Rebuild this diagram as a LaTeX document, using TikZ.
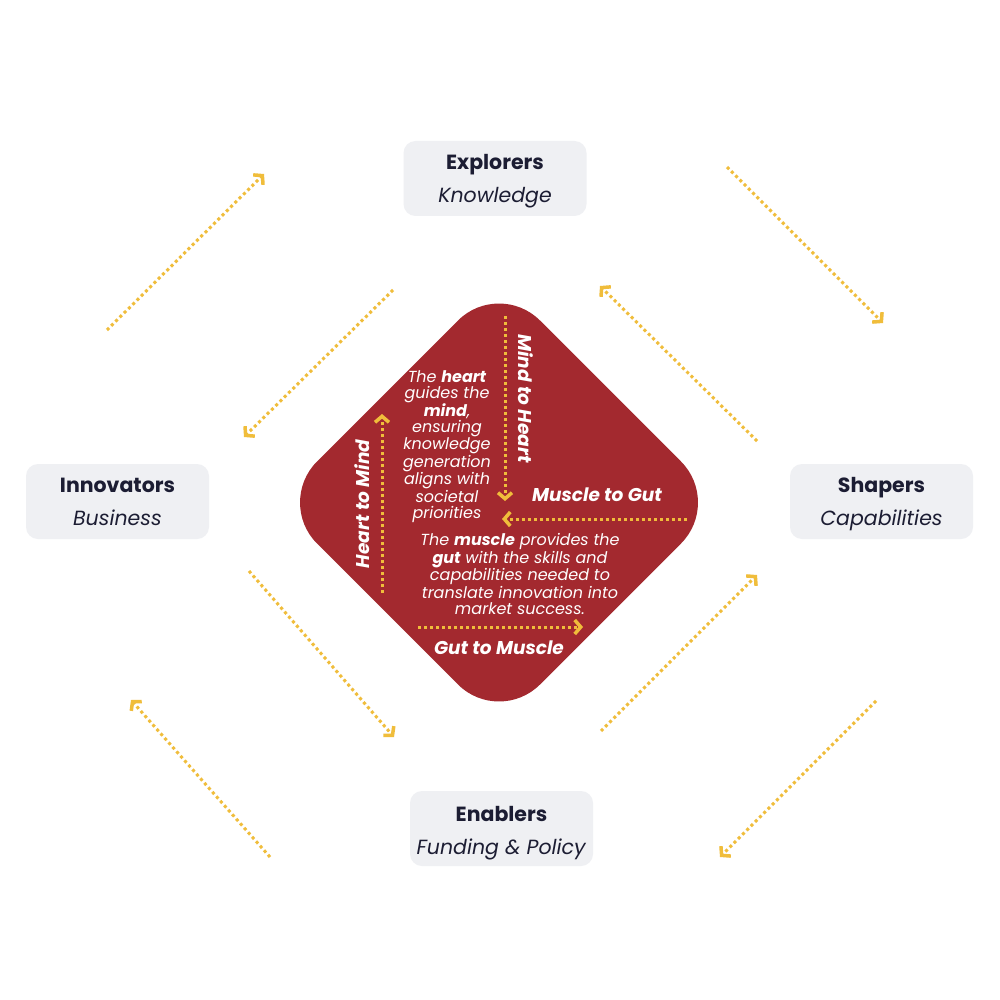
\documentclass[tikz,border=0pt]{standalone}
\usepackage{fontspec}
\setmainfont{Poppins}
\usetikzlibrary{arrows.meta}
\definecolor{dred}{HTML}{A3292F}
\definecolor{gold}{HTML}{F0BD3B}
\definecolor{boxgray}{HTML}{EFF0F3}
\definecolor{navy}{HTML}{1C1D33}
\tikzset{
  rolebox/.style={fill=boxgray, rounded corners=12pt, minimum width=183pt, minimum height=75pt, inner sep=0pt},
  roletext/.style={text=navy, align=center, font=\fontsize{20.5}{33}\selectfont, inner sep=0pt},
  flow/.style={gold, line width=3pt, dash pattern=on 3pt off 3pt,
    -{Straight Barb[length=6pt,width=14pt,line width=3.5pt]}},
  lbl/.style={text=white, font=\fontsize{18.5}{20}\selectfont\bfseries\itshape, inner sep=0pt},
  para/.style={text=white, align=center, font=\fontsize{16}{16}\selectfont\itshape, inner sep=0pt}
}
\begin{document}
\begin{tikzpicture}[x=1pt,y=-1pt]
\useasboundingbox (0,0) rectangle (1000,1000);
\fill[white] (0,0) rectangle (1000,1000);

% central diamond
\fill[dred, rounded corners=58pt] (499,279.5) -- (722,502.5) -- (499,725.5) -- (276,502.5) -- cycle;

% role boxes
\node[rolebox] (explorers) at (495,178.5) {};
\node[rolebox] (innovators) at (117.5,501.5) {};
\node[rolebox] (shapers) at (881.5,501.5) {};
\node[rolebox] (enablers) at (501.5,828.5) {};
\node[roletext] (explorersT) at ([yshift=-3pt]explorers.center) {\textbf{Explorers}\\\textit{Knowledge}};
\node[roletext] (innovatorsT) at (innovators.center) {\textbf{Innovators}\\\textit{Business}};
\node[roletext] (shapersT) at ([yshift=-3pt]shapers.center) {\textbf{Shapers}\\\textit{Capabilities}};
\node[roletext] (enablersT) at ([yshift=-5pt]enablers.center) {\textbf{Enablers}\\\textit{Funding \& Policy}};

% outer arrow end points
\coordinate (a1s) at (107,330); \coordinate (a1e) at (264,174);
\coordinate (a2s) at (393,290); \coordinate (a2e) at (244,437);
\coordinate (a3s) at (727,167); \coordinate (a3e) at (883,323);
\coordinate (a4s) at (757,441); \coordinate (a4e) at (600,286);
\coordinate (a5s) at (249,571); \coordinate (a5e) at (394,737);
\coordinate (a6s) at (270,857); \coordinate (a6e) at (131,700);
\coordinate (a7s) at (601,731); \coordinate (a7e) at (757,575);
\coordinate (a8s) at (876,701); \coordinate (a8e) at (720,857);
\foreach \i in {1,...,8} \draw[flow] (a\i s) -- (a\i e);

% inner arrows
\coordinate (m1) at (505,316); \coordinate (m2) at (505,501);
\coordinate (g1) at (687,519); \coordinate (g2) at (502,519);
\coordinate (h1) at (382,593); \coordinate (h2) at (382,414);
\coordinate (u1) at (418,627); \coordinate (u2) at (583,627);
\draw[flow] (m1) -- (m2);
\draw[flow] (g1) -- (g2);
\draw[flow] (h1) -- (h2);
\draw[flow] (u1) -- (u2);

% labels
\node[lbl, rotate=-90] (mth) at (526,398.5) {Mind to Heart};
\node[lbl, rotate=90] (htm) at (362,504) {Heart to Mind};
\node[lbl] (mtg) at (597,495) {Muscle to Gut};
\node[lbl] (gtm) at (499,648) {Gut to Muscle};

\node[para] (p1) at (447,446.5) {The \textbf{heart}\\guides the\\\textbf{mind},\\ensuring\\knowledge\\generation\\aligns with\\societal\\priorities};
\node[para] (p2) at (520,574) {The \textbf{muscle} provides the\\\textbf{gut} with the skills and\\capabilities needed to\\translate innovation into\\market success.};
\end{tikzpicture}
\end{document}
